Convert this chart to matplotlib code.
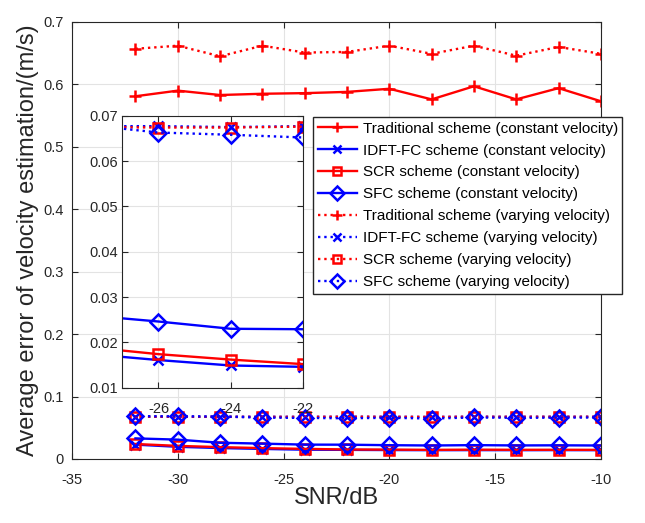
import matplotlib
matplotlib.use("Agg")
import matplotlib.pyplot as plt
from matplotlib.ticker import FuncFormatter

plt.rcParams['font.family'] = ['Liberation Sans', 'DejaVu Sans']
plt.rcParams['axes.unicode_minus'] = False

snr = [-32, -30, -28, -26, -24, -22, -20, -18, -16, -14, -12, -10]

trad_const = [0.581, 0.590, 0.583, 0.585, 0.586, 0.588, 0.593, 0.576, 0.597, 0.576, 0.594, 0.573]
idft_const = [0.023, 0.0195, 0.0175, 0.0161, 0.0149, 0.0146, 0.0143, 0.0141, 0.0142, 0.0141, 0.0142, 0.0141]
scr_const = [0.024, 0.021, 0.019, 0.0174, 0.0162, 0.0152, 0.0150, 0.0146, 0.0149, 0.0147, 0.0147, 0.0146]
sfc_const = [0.033, 0.031, 0.026, 0.0246, 0.0230, 0.0229, 0.0221, 0.0216, 0.0222, 0.0217, 0.0219, 0.0216]

trad_vary = [0.657, 0.662, 0.645, 0.662, 0.651, 0.652, 0.662, 0.649, 0.662, 0.646, 0.660, 0.649]
idft_vary = [0.0678, 0.0677, 0.0677, 0.0677, 0.0675, 0.0677, 0.0676, 0.0674, 0.0677, 0.0676, 0.0677, 0.0676]
scr_vary = [0.0676, 0.0675, 0.0675, 0.0674, 0.0674, 0.0676, 0.0675, 0.0673, 0.0676, 0.0675, 0.0676, 0.0676]
sfc_vary = [0.0685, 0.0683, 0.0680, 0.0663, 0.0658, 0.0652, 0.0660, 0.0648, 0.0665, 0.0660, 0.0662, 0.0665]

labels = [
    'Traditional scheme (constant velocity)',
    'IDFT-FC scheme (constant velocity)',
    'SCR scheme (constant velocity)',
    'SFC scheme (constant velocity)',
    'Traditional scheme (varying velocity)',
    'IDFT-FC scheme (varying velocity)',
    'SCR scheme (varying velocity)',
    'SFC scheme (varying velocity)',
]

series = [trad_const, idft_const, scr_const, sfc_const,
          trad_vary, idft_vary, scr_vary, sfc_vary]
colors = ['red', 'blue', 'red', 'blue', 'red', 'blue', 'red', 'blue']
markers = ['+', 'x', 's', 'D', '+', 'x', 's', 'D']
msizes = [8.5, 6.5, 6.5, 8.5, 8.5, 6.5, 6.5, 8.5]
styles = ['-', '-', '-', '-', ':', ':', ':', ':']

fig = plt.figure(figsize=(6.45, 5.23), dpi=100)
ax = fig.add_axes([0.1116, 0.1224, 0.820, 0.8356])

def draw(a):
    hs = []
    for y, c, m, ms, ls, lab in zip(series, colors, markers, msizes, styles, labels):
        h, = a.plot(snr, y, color=c, marker=m, markersize=ms, linestyle=ls,
                    linewidth=1.7, markerfacecolor='none', markeredgewidth=1.8,
                    label=lab)
        hs.append(h)
    return hs

handles = draw(ax)
ax.set_xlim(-35, -10)
ax.set_ylim(0, 0.7)
ax.set_xticks([-35, -30, -25, -20, -15, -10])
ax.set_yticks([0, 0.1, 0.2, 0.3, 0.4, 0.5, 0.6, 0.7])
ax.yaxis.set_major_formatter(FuncFormatter(lambda v, p: '0' if abs(v) < 1e-9 else f'{v:g}'))
ax.grid(True, color='#e3e3e3', linewidth=0.8)
ax.set_axisbelow(True)
ax.tick_params(direction='in', top=True, right=True, labelsize=10.5, length=4,
               colors='#262626', pad=6)
ax.tick_params(axis='x', pad=10)
for s in ax.spines.values():
    s.set_color('#262626')
    s.set_linewidth(0.8)
ax.set_xlabel('SNR/dB', fontsize=17, color='#262626', labelpad=0)
ax.set_ylabel('Average error of velocity estimation/(m/s)', fontsize=17, color='#262626', labelpad=3)

# inset
axin = fig.add_axes([0.1896, 0.2587, 0.2806, 0.5200])
draw(axin)
axin.set_xlim(-27, -22)
axin.set_ylim(0.01, 0.07)
axin.set_xticks([-26, -24, -22])
axin.set_yticks([0.01, 0.02, 0.03, 0.04, 0.05, 0.06, 0.07])
axin.yaxis.set_major_formatter(FuncFormatter(lambda v, p: f'{v:.2f}'))
axin.grid(True, color='#e3e3e3', linewidth=0.8)
axin.set_axisbelow(True)
axin.tick_params(direction='in', top=True, right=True, labelsize=10.5, length=4,
                 colors='#262626', pad=3)
axin.tick_params(axis='x', pad=10)
for s in axin.spines.values():
    s.set_color('#262626')
    s.set_linewidth(0.8)

fig.legend(handles=handles, loc='upper left', bbox_to_anchor=(313 / 645, 1 - 117 / 523),
           fontsize=11, frameon=True, fancybox=False, edgecolor='#262626',
           framealpha=1, handlelength=2.6, labelspacing=0.52, borderpad=0.3,
           handletextpad=0.35, borderaxespad=0, markerscale=0.85)

fig.savefig('out.png', dpi=100)
